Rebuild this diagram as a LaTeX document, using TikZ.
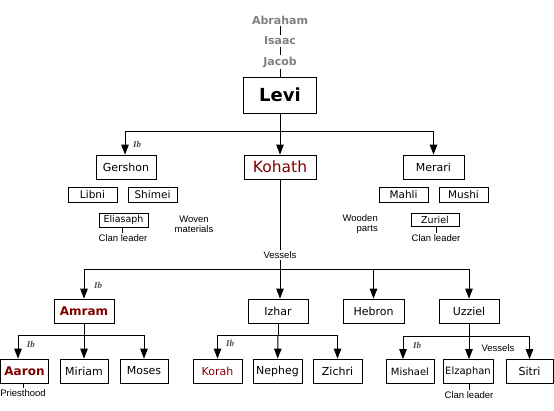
\documentclass[tikz,border=0pt]{standalone}
\usepackage{fontspec}
\setmainfont{DejaVu Sans}
\newfontfamily\smallfont{Liberation Sans}
\newfontfamily\ibfont{Liberation Serif}
\usetikzlibrary{arrows.meta}
\definecolor{dred}{HTML}{800000}
\definecolor{pgray}{HTML}{808080}
\begin{document}
\begin{tikzpicture}[x=1pt,y=-1pt,
  box/.style={draw,line width=0.8pt,inner sep=0pt,minimum height=24pt,font=\fontsize{11}{13}\selectfont},
  sbox/.style={draw,line width=0.8pt,inner sep=0pt,minimum height=15pt,minimum width=49pt,font=\fontsize{10.5}{12}\selectfont},
  lab/.style={inner sep=1pt,align=center,font=\smallfont\fontsize{9.5}{10}\selectfont},
  anc/.style={text=pgray,font=\bfseries\fontsize{11}{13}\selectfont,inner sep=2pt},
  ibl/.style={text=black!70,font=\ibfont\itshape\bfseries\fontsize{9}{10}\selectfont,inner sep=0pt},
  arr/.style={line width=1pt,-{Triangle[width=7.5pt,length=10pt]}},
  con/.style={line width=1pt}]
\useasboundingbox[fill=white] (0,0) rectangle (554,410);
% ancestors
\node[anc] (abraham) at (280,20) {Abraham};
\node[anc] (isaac) at (280,41) {Isaac};
\node[anc] (jacob) at (280,62) {Jacob};
\node[draw,line width=0.8pt,minimum width=73pt,minimum height=36pt,inner sep=0pt,font=\bfseries\fontsize{18}{20}\selectfont] (levi) at (280,95) {Levi};
\draw[con] (abraham) -- (isaac);
\draw[con] (isaac) -- (jacob);
\draw[con] (jacob) -- (levi);
% sons of Levi
\node[box,minimum width=60pt] (gershon) at (126,167) {Gershon};
\node[box,minimum width=72pt,text=dred,font=\fontsize{15.5}{17}\selectfont] (kohath) at (280,167) {Kohath};
\node[box,minimum width=61pt] (merari) at (433.5,167) {Merari};
\coordinate (bar1) at (280,131);
\draw[con] (levi) -- (bar1);
\draw[arr] (bar1) -| ([xshift=-1pt]gershon.north);
\draw[arr] (bar1) -- (kohath);
\draw[arr] (bar1) -| (merari);
\node[ibl] (ib1) at (137,144) {Ib};
% Gershon clans
\node[sbox] (libni) at (92.5,194.5) {Libni};
\node[sbox] (shimei) at (152.5,194.5) {Shimei};
\node[sbox,minimum height=14pt,font=\fontsize{9.5}{11}\selectfont] (eliasaph) at (123.5,220) {Eliasaph};
\node[lab,anchor=north] (clan1) at (123,233) {Clan leader};
\draw[line width=0.8pt] ([xshift=-1.5pt]eliasaph.south) -- ([xshift=-1pt]clan1.north);
\node[lab] (woven) at (194,224) {Woven\\materials};
% Merari clans
\node[sbox] (mahli) at (403.5,194.5) {Mahli};
\node[sbox] (mushi) at (463.5,194.5) {Mushi};
\node[sbox,minimum height=13pt,minimum width=48pt,font=\fontsize{9.5}{11}\selectfont] (zuriel) at (435,219.5) {Zuriel};
\node[lab,anchor=north] (clan2) at (436,233) {Clan leader};
\draw[line width=0.8pt] ([xshift=1pt]zuriel.south) -- (clan2.north);
\node[lab,align=right,anchor=east] (wooden) at (379,224) {Wooden\\parts};
% sons of Kohath
\coordinate (bar2) at (280,269);
\node[lab,fill=white,inner sep=1.5pt] (vessels1) at (280,255) {Vessels};
\draw[con] (kohath) -- (vessels1);
\draw[con] (vessels1) -- (bar2);
\node[box,minimum width=60pt,text=dred,font=\bfseries\fontsize{12}{14}\selectfont] (amram) at (84,311) {Amram};
\node[box,minimum width=60pt] (izhar) at (278,311) {Izhar};
\node[box,minimum width=61pt] (hebron) at (373.5,311) {Hebron};
\node[box,minimum width=60pt] (uzziel) at (469,311) {Uzziel};
\draw[arr] (bar2) -| (amram);
\draw[arr] (bar2) -- ([xshift=2pt]izhar.north);
\draw[arr] (bar2) -| (hebron);
\draw[arr] (bar2) -| (uzziel);
\node[ibl] (ib2) at (98,285) {Ib};
% children of Amram
\coordinate (bar3) at (84,335);
\draw[con] (amram) -- (bar3);
\node[box,minimum width=48pt,text=dred,font=\bfseries\fontsize{12}{14}\selectfont] (aaron) at (24.5,371) {Aaron};
\node[box,minimum width=48pt] (miriam) at (84,371) {Miriam};
\node[box,minimum width=48pt] (moses) at (144,371) {Moses};
\draw[arr] (bar3) -| ([xshift=-6.5pt]aaron.north);
\draw[arr] (bar3) -- (miriam);
\draw[arr] (bar3) -| (moses);
\node[ibl] (ib3) at (31,344) {Ib};
\node[lab,anchor=north] (priest) at (23,388) {Priesthood};
\draw[line width=0.8pt] ([xshift=-1.5pt]aaron.south) -- (priest.north);
% children of Izhar
\coordinate (bar4) at (278,335.5);
\draw[con] (izhar) -- (bar4);
\node[box,minimum width=49pt,text=dred] (korah) at (217.5,371) {Korah};
\node[box,minimum width=49pt] (nepheg) at (277.5,371) {Nepheg};
\node[box,minimum width=49pt] (zichri) at (337.5,371) {Zichri};
\draw[arr] (bar4) -| (korah);
\draw[arr] (bar4) -- (nepheg);
\draw[arr] (bar4) -| (zichri);
\node[ibl] (ib4) at (230,343) {Ib};
% children of Uzziel
\coordinate (bar5) at (469,336);
\draw[con] (uzziel) -- (bar5);
\node[box,minimum width=48pt,font=\fontsize{10}{12}\selectfont] (mishael) at (410,371.5) {Mishael};
\node[box,minimum width=50pt,font=\fontsize{10}{12}\selectfont] (elzaphan) at (468,371.5) {Elzaphan};
\node[box,minimum width=47pt] (sitri) at (529.5,371.5) {Sitri};
\draw[arr] (bar5) -| ([xshift=-7pt]mishael.north);
\draw[arr] (bar5) -- ([xshift=1pt]elzaphan.north);
\draw[arr] (bar5) -| (sitri);
\node[ibl] (ib5) at (417,345) {Ib};
\node[lab] (vessels2) at (498,348) {Vessels};
\node[lab,anchor=north] (clan3) at (469,390) {Clan leader};
\draw[line width=0.8pt] ([xshift=1pt]elzaphan.south) -- (clan3.north);
\end{tikzpicture}
\end{document}
